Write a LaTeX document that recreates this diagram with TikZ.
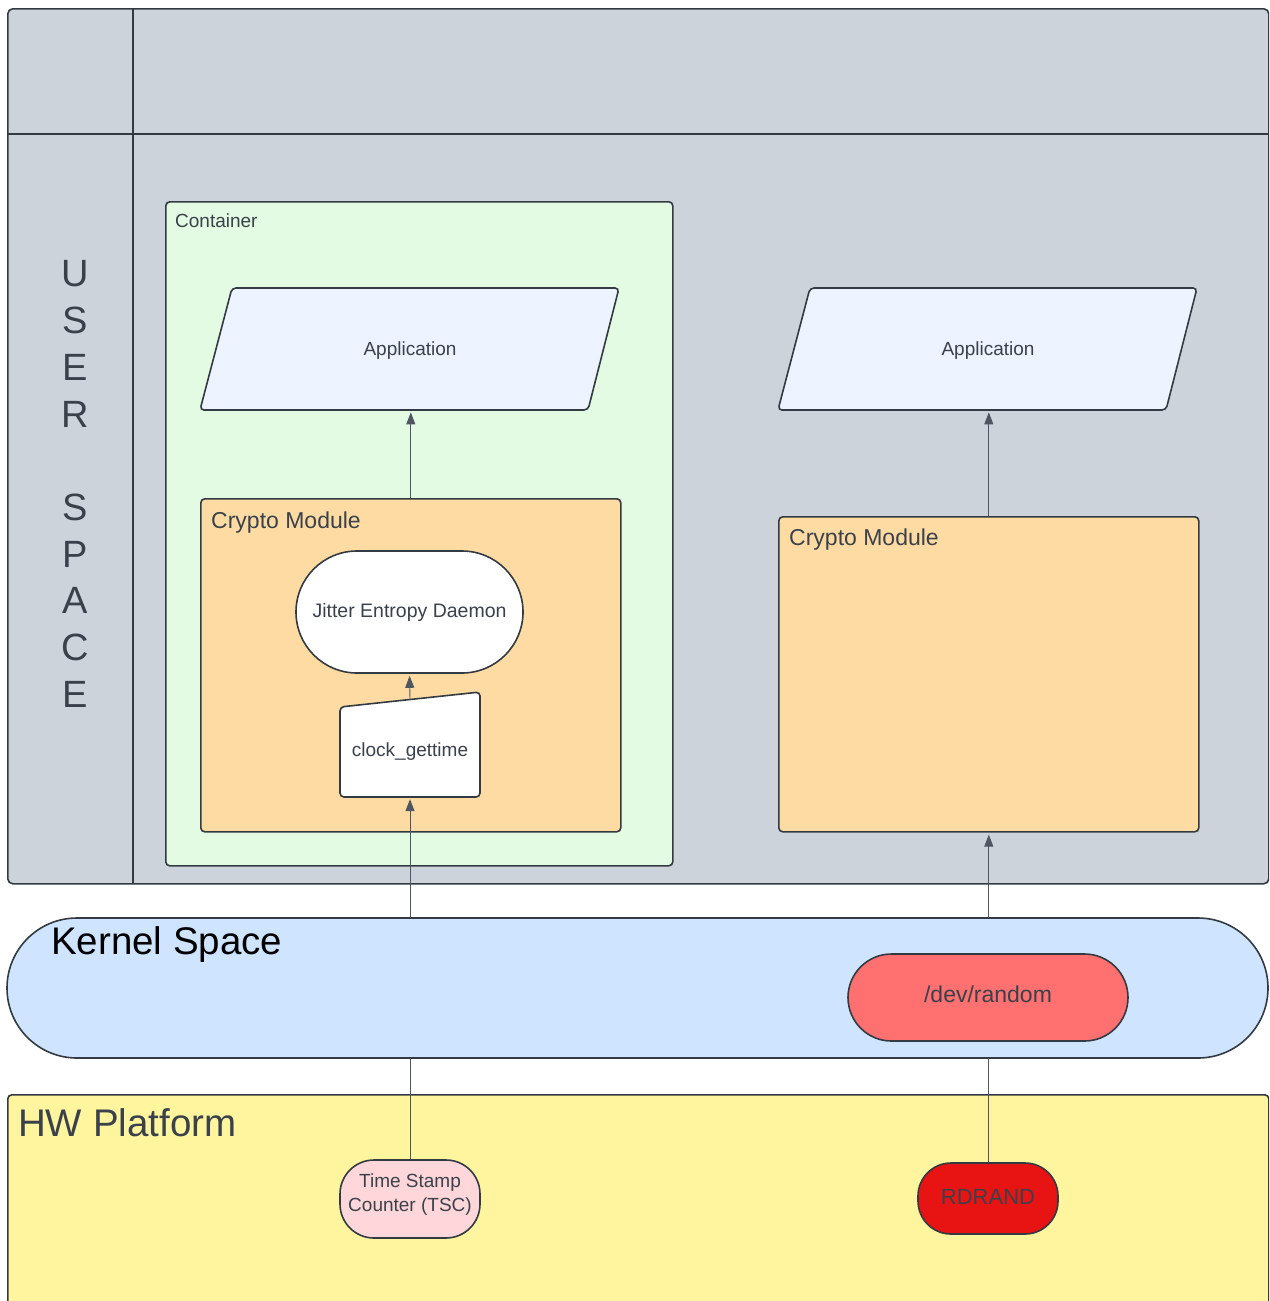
\documentclass[tikz,border=0pt]{standalone}
\usepackage{fontspec}
\setmainfont{Liberation Sans}
\usetikzlibrary{arrows.meta,calc}

\definecolor{edge}{HTML}{333A42}
\definecolor{txt}{HTML}{3A414A}
\definecolor{wire}{HTML}{4E5661}
\definecolor{userfill}{HTML}{CDD3DB}
\definecolor{contfill}{HTML}{E3FAE3}
\definecolor{appfill}{HTML}{EDF4FF}
\definecolor{cryptofill}{HTML}{FEDBA3}
\definecolor{kernfill}{HTML}{CFE4FF}
\definecolor{devfill}{HTML}{FF7070}
\definecolor{hwfill}{HTML}{FFF59E}
\definecolor{tscfill}{HTML}{FFD6D9}
\definecolor{rdfill}{HTML}{E81313}

\newcommand{\fs}[2]{\fontsize{#1}{#2}\selectfont}

\tikzset{
  box/.style={draw=edge, line width=1.6pt, inner sep=0pt, rounded corners=4pt},
  ghost/.style={inner sep=0pt},
  lbl/.style={text=txt, inner sep=0pt},
  arrow/.style={draw=wire, line width=0.9pt, shorten >=2pt,
    -{Triangle[width=9pt,length=12pt]}},
  link/.style={draw=wire, line width=0.9pt},
}

\begin{document}
\begin{tikzpicture}[x=1pt,y=-1pt]
\useasboundingbox (0,0) rectangle (1269,1301);
\begin{scope}
\clip (0,0) rectangle (1269,1301);

% user space panel with its header row and side column
\node[box, fill=userfill, rounded corners=5pt, minimum width=1261pt, minimum height=875pt, anchor=north west] (user) at (7,8) {};
\draw[edge, line width=1.6pt] (133,8) -- (133,883);
\draw[edge, line width=1.6pt] (7,134) -- (1268,134);
\node[lbl, align=center, font=\fs{38}{46.7}] (ulabel) at (75,484)
  {U\\S\\E\\R\\\mbox{}\\S\\P\\A\\C\\E};

% container
\node[box, fill=contfill, minimum width=507pt, minimum height=664pt, anchor=north west] (cont) at (165,201) {};
\node[lbl, font=\fs{19}{22}, anchor=base west] (contl) at (175,227) {Container};

% applications (parallelograms)
\node[ghost, minimum width=419pt, minimum height=122pt, anchor=north west] (appL) at (200,288) {};
\draw[box, fill=appfill] (232,288) -- (619,288) -- (588,410) -- (200,410) -- cycle;
\node[lbl, font=\fs{19}{22}] (appLt) at (410,351) {Application};

\node[ghost, minimum width=419pt, minimum height=122pt, anchor=north west] (appR) at (778,288) {};
\draw[box, fill=appfill] (810,288) -- (1197,288) -- (1166,410) -- (778,410) -- cycle;
\node[lbl, font=\fs{19}{22}] (appRt) at (988,351) {Application};

% crypto modules
\node[box, fill=cryptofill, minimum width=420pt, minimum height=333pt, anchor=north west] (cmL) at (200,498) {};
\node[lbl, font=\fs{23}{26}, anchor=base west] (cmLt) at (211,528) {Crypto Module};
\node[box, fill=cryptofill, minimum width=420pt, minimum height=315pt, anchor=north west] (cmR) at (778,516) {};
\node[lbl, font=\fs{23}{26}, anchor=base west] (cmRt) at (789,545) {Crypto Module};

% jitter entropy daemon and clock source
\node[box, fill=white, rounded corners=61pt, minimum width=227pt, minimum height=122pt] (jit) at (409.5,612) {};
\node[lbl, font=\fs{19.5}{22}] (jitt) at (409.5,612) {Jitter Entropy Daemon};
\draw[box, fill=white] (340,707) -- (480,692) -- (480,797) -- (340,797) -- cycle;
\node[ghost, minimum width=140pt, minimum height=105pt] (clk) at (410,744.5) {};
\node[lbl, font=\fs{19}{22}] (clkt) at (410,752) {clock\_gettime};
\coordinate (clktop) at (410,699.5);

% kernel space
\node[box, fill=kernfill, rounded corners=70pt, minimum width=1261pt, minimum height=140pt] (ker) at (637.5,988) {};
\node[inner sep=0pt, text=black, font=\fs{38.5}{44}, anchor=base west] (kert) at (51,954) {Kernel Space};
\node[box, fill=devfill, rounded corners=43.5pt, minimum width=280pt, minimum height=87pt] (dev) at (988,997.5) {};
\node[lbl, font=\fs{23}{26}] (devt) at (988,994) {/dev/random};

% hardware platform
\node[box, fill=hwfill, minimum width=1261pt, minimum height=240pt, anchor=north west] (hw) at (7,1094) {};
\node[lbl, font=\fs{38.5}{44}, anchor=base west] (hwt) at (18,1136) {HW Platform};
\node[box, fill=tscfill, rounded corners=34pt, minimum width=140pt, minimum height=78pt] (tsc) at (410,1199) {};
\node[lbl, align=center, font=\fs{19}{24}] (tsct) at (410,1195) {Time Stamp\\Counter (TSC)};
\node[box, fill=rdfill, rounded corners=33pt, minimum width=140pt, minimum height=71pt] (rd) at (988,1198.5) {};
\node[lbl, font=\fs{22}{26}] (rdt) at (988,1196.5) {RDRAND};

% connectors
\draw[arrow] (cmL.north) -- (cmL.north |- appL.south);
\draw[arrow] (clktop) -- (jit.south);
\draw[arrow] (ker.north -| clk.south) -- (clk.south);
\draw[arrow] (cmR.north) -- (cmR.north |- appR.south);
\draw[arrow] (ker.north -| cmR.south) -- (cmR.south);
\draw[link] (tsc.north) -- (tsc.north |- ker.south);
\draw[link] (rd.north) -- (rd.north |- ker.south);
\end{scope}
\end{tikzpicture}
\end{document}
